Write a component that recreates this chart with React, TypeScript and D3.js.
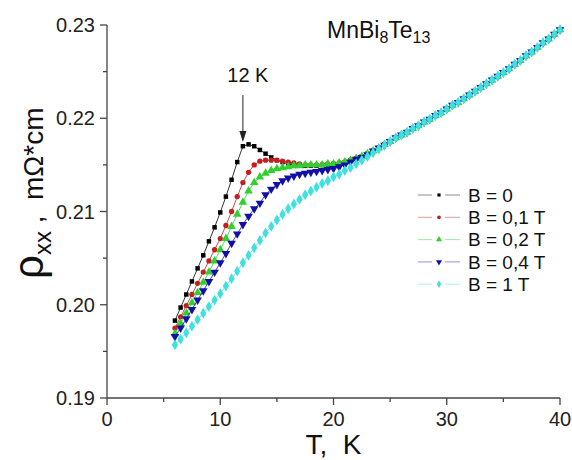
import React from "react";
import * as d3 from "d3";

// temperatures, K (per-series part up to 24.5 K, shared high-T tail after)
const tLow = [
  6, 6.5, 7, 7.5, 8, 8.5, 9, 9.5, 10, 10.5, 11, 11.5, 12, 12.5, 13, 13.5, 14,
  14.5, 15, 15.5, 16, 16.5, 17, 17.5, 18, 18.5, 19, 19.5, 20, 20.5, 21, 21.5,
  22, 22.5, 23, 23.5, 24, 24.5
];
const tHigh = [
  25, 25.5, 26, 26.5, 27, 27.5, 28, 28.5, 29, 29.5, 30, 30.5, 31, 31.5, 32,
  32.5, 33, 33.5, 34, 34.5, 35, 35.5, 36, 36.5, 37, 37.5, 38, 38.5, 39, 39.5, 40
];

const rhoB0 = [
  0.1983, 0.1997, 0.2011, 0.2025, 0.2039, 0.2053, 0.2068, 0.2083, 0.2099,
  0.2116, 0.2134, 0.2153, 0.217, 0.2172, 0.217, 0.2166, 0.2162, 0.2158, 0.2155,
  0.2153, 0.2151, 0.215, 0.215, 0.2149, 0.2149, 0.2149, 0.215, 0.215, 0.2151,
  0.2152, 0.2153, 0.2155, 0.2157, 0.2159, 0.2162, 0.2165, 0.2168, 0.2172
];
const rhoB01 = [
  0.1975, 0.1987, 0.1999, 0.2011, 0.2023, 0.2035, 0.2047, 0.2059, 0.2071,
  0.2085, 0.21, 0.2116, 0.2131, 0.2142, 0.215, 0.2154, 0.2155, 0.2155, 0.2155,
  0.2154, 0.2153, 0.2152, 0.2151, 0.215, 0.215, 0.215, 0.215, 0.2151, 0.2151,
  0.2152, 0.2153, 0.2155, 0.2157, 0.2159, 0.2162, 0.2165, 0.2168, 0.2172
];
const rhoB02 = [
  0.1969, 0.198, 0.1991, 0.2002, 0.2013, 0.2024, 0.2035, 0.2047, 0.2059,
  0.2071, 0.2084, 0.2097, 0.211, 0.2122, 0.2131, 0.2137, 0.2141, 0.2144,
  0.2146, 0.2147, 0.2148, 0.2149, 0.2149, 0.215, 0.215, 0.215, 0.215, 0.2151,
  0.2151, 0.2152, 0.2153, 0.2155, 0.2157, 0.2159, 0.2162, 0.2165, 0.2168,
  0.2172
];
const rhoB04 = [
  0.1966, 0.1975, 0.1985, 0.1995, 0.2005, 0.2015, 0.2025, 0.2035, 0.2045,
  0.2055, 0.2066, 0.2076, 0.2086, 0.2095, 0.2103, 0.2109, 0.2118, 0.2124,
  0.2129, 0.2133, 0.2136, 0.2138, 0.214, 0.2141, 0.2142, 0.2143, 0.2144,
  0.2145, 0.2146, 0.2148, 0.215, 0.2153, 0.2156, 0.2158, 0.2161, 0.2165,
  0.2168, 0.2171
];
const rhoB1 = [
  0.1957, 0.1963, 0.197, 0.1977, 0.1984, 0.1991, 0.1998, 0.2005, 0.2012, 0.202,
  0.2028, 0.2036, 0.2045, 0.2053, 0.2061, 0.2069, 0.2077, 0.2084, 0.2091,
  0.2097, 0.2103, 0.2108, 0.2113, 0.2118, 0.2122, 0.2126, 0.213, 0.2133,
  0.2137, 0.214, 0.2144, 0.2147, 0.2151, 0.2155, 0.2159, 0.2163, 0.2167, 0.2171
];
// all fields coincide above ~25 K
const rhoTail = [
  0.2175, 0.2179, 0.2182, 0.2185, 0.2189, 0.2192, 0.2196, 0.2199, 0.2203,
  0.2206, 0.221, 0.2214, 0.2217, 0.2221, 0.2225, 0.2229, 0.2233, 0.2237,
  0.2241, 0.2245, 0.2249, 0.2253, 0.2258, 0.2262, 0.2267, 0.2271, 0.2276,
  0.2281, 0.2285, 0.229, 0.2295
];

const seriesNames = ["B = 0", "B = 0,1 T", "B = 0,2 T", "B = 0,4 T", "B = 1 T"];
const xTicks = [0, 10, 20, 30, 40];
const yTicks = [0.19, 0.2, 0.21, 0.22, 0.23];

const colors = ["#000000", "#c41e1e", "#2fd02f", "#1010a8", "#3fe0e0"];
const symbols = [
  { type: d3.symbolSquare, size: 20, rot: 0 },
  { type: d3.symbolCircle, size: 22, rot: 0 },
  { type: d3.symbolTriangle, size: 32, rot: 0 },
  { type: d3.symbolTriangle, size: 32, rot: 180 },
  { type: d3.symbolDiamond, size: 34, rot: 0 }
];

const FONT = "'Liberation Sans', Arial, sans-serif";

export default function App() {
  const width = 572;
  const height = 460;
  const margin = { left: 107, right: 12, top: 25, bottom: 62 };

  const xScale = d3
    .scaleLinear()
    .domain([0, 40])
    .range([margin.left, width - margin.right]);
  const yScale = d3
    .scaleLinear()
    .domain([0.19, 0.23])
    .range([height - margin.bottom, margin.top]);

  const t = [...tLow, ...tHigh];
  const series = [rhoB0, rhoB01, rhoB02, rhoB04, rhoB1].map((low, i) => ({
    name: seriesNames[i],
    color: colors[i],
    sym: symbols[i],
    points: [...low, ...rhoTail].map((v, j) => ({ t: t[j], v }))
  }));

  const line = d3
    .line<{ t: number; v: number }>()
    .x(d => xScale(d.t))
    .y(d => yScale(d.v));

  const x0 = xScale(0);
  const y0 = yScale(0.19);
  const axisColor = "#444";

  const xMinor = d3.range(5, 40, 10);
  const yMinor = d3.range(0.195, 0.23, 0.01);

  const legendX = 418;
  const legendY = 195;
  const legendStep = 22.3;

  const peakX = xScale(12);

  return (
    <svg
      width={width}
      height={height}
      style={{ position: "absolute", left: 0, top: 0, background: "#fff" }}
      fontFamily={FONT}
    >
      {/* series */}
      {series.map((s, i) => (
        <g key={i}>
          <path d={line(s.points) || ""} fill="none" stroke={s.color} strokeWidth={0.8} />
          {s.points.map((p, j) => (
            <path
              key={j}
              d={d3.symbol().type(s.sym.type).size(s.sym.size)() || ""}
              transform={`translate(${xScale(p.t)},${yScale(p.v)}) rotate(${s.sym.rot})`}
              fill={s.color}
            />
          ))}
        </g>
      ))}

      {/* axes */}
      <g stroke={axisColor} strokeWidth={1.3}>
        <line x1={x0} x2={xScale(40)} y1={y0} y2={y0} />
        <line x1={x0} x2={x0} y1={y0} y2={yScale(0.23)} />
        {xTicks.map(d => (
          <line key={d} x1={xScale(d)} x2={xScale(d)} y1={y0} y2={y0 + 7} />
        ))}
        {xMinor.map(d => (
          <line key={d} x1={xScale(d)} x2={xScale(d)} y1={y0} y2={y0 + 4} />
        ))}
        {yTicks.map(d => (
          <line key={d} x1={x0} x2={x0 - 7} y1={yScale(d)} y2={yScale(d)} />
        ))}
        {yMinor.map(d => (
          <line key={d} x1={x0} x2={x0 - 4} y1={yScale(d)} y2={yScale(d)} />
        ))}
      </g>
      {xTicks.map(d => (
        <text key={d} x={xScale(d)} y={y0 + 28} fontSize={20} textAnchor="middle" fill="#222">
          {d}
        </text>
      ))}
      {yTicks.map(d => (
        <text
          key={d}
          x={x0 - 12}
          y={yScale(d)}
          dy="0.35em"
          fontSize={20}
          textAnchor="end"
          fill="#222"
        >
          {d.toFixed(2)}
        </text>
      ))}

      {/* axis titles */}
      <text
        x={(x0 + xScale(40)) / 2}
        y={454}
        fontSize={28}
        textAnchor="middle"
        fill="#111"
        style={{ whiteSpace: "pre" }}
      >
        {"T,  K"}
      </text>
      <text
        transform={`translate(43,279) rotate(-90)`}
        fontSize={28}
        fill="#111"
        style={{ whiteSpace: "pre" }}
      >
        <tspan fontSize={42}>ρ</tspan>
        <tspan fontSize={24} dy={8}>xx</tspan>
        <tspan dy={-8}>{" ,  mΩ*cm"}</tspan>
      </text>

      {/* compound label */}
      <text x={327} y={38} fontSize={23} fill="#111">
        MnBi<tspan fontSize={16} dy={5}>8</tspan>
        <tspan dy={-5}>Te</tspan>
        <tspan fontSize={16} dy={5}>13</tspan>
      </text>

      {/* 12 K annotation */}
      <text x={peakX + 5} y={82} fontSize={20} textAnchor="middle" fill="#111">
        12 K
      </text>
      <line x1={peakX} x2={peakX} y1={95} y2={134} stroke="#222" strokeWidth={1} />
      <path d={`M${peakX - 3.5},${131} L${peakX + 3.5},${131} L${peakX},${142} Z`} fill="#222" />

      {/* legend */}
      {series.map((s, i) => {
        const y = legendY + i * legendStep;
        return (
          <g key={i}>
            <line x1={legendX} x2={legendX + 14} y1={y} y2={y} stroke={s.color} strokeOpacity={0.45} strokeWidth={1} />
            <line x1={legendX + 27} x2={legendX + 42} y1={y} y2={y} stroke={s.color} strokeOpacity={0.45} strokeWidth={1} />
            <path
              d={d3.symbol().type(s.sym.type).size(s.sym.size * 0.5)() || ""}
              transform={`translate(${legendX + 21},${y}) rotate(${s.sym.rot})`}
              fill={s.color}
            />
            <text x={legendX + 50} y={y} dy="0.36em" fontSize={19} fill="#111">
              {s.name}
            </text>
          </g>
        );
      })}
    </svg>
  );
}
